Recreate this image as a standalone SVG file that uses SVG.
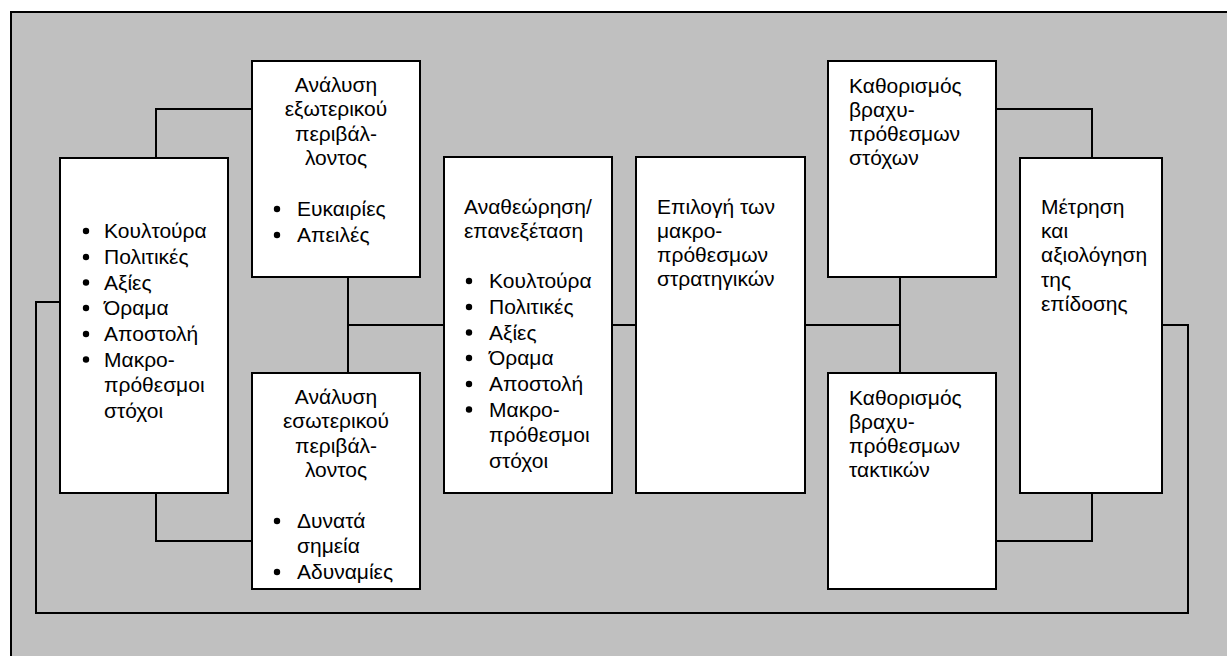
<svg xmlns="http://www.w3.org/2000/svg" width="1227" height="656" viewBox="0 0 1227 656">
<style>
.box{fill:#fff;stroke:#000;stroke-width:2}
.ln{fill:none;stroke:#000;stroke-width:2}
text{font-family:"Liberation Sans",Arial,sans-serif;font-size:21px;fill:#000}
.c{text-anchor:middle}
.b{fill:#000}
</style>
<rect x="11" y="12" width="1230" height="660" fill="#C0C0C0" stroke="#000" stroke-width="2"/>
<g id="connectors">
<path class="ln" d="M156,158 V109 H252"/>
<path class="ln" d="M156,493 V541 H252"/>
<path class="ln" d="M60,302 H36 V613 H1188 V325 H1162"/>
<path class="ln" d="M348,277 V373"/>
<path class="ln" d="M348,325 H444"/>
<path class="ln" d="M612,325 H636"/>
<path class="ln" d="M805,325 H900"/>
<path class="ln" d="M900,277 V373"/>
<path class="ln" d="M996,109 H1092 V158"/>
<path class="ln" d="M996,541 H1092 V493"/>
</g>
<g id="values">
<rect class="box" x="60" y="158" width="168" height="335"/>
<g class="b"><circle cx="86" cy="231" r="3.2"/><circle cx="86" cy="257" r="3.2"/><circle cx="86" cy="282.5" r="3.2"/><circle cx="86" cy="308" r="3.2"/><circle cx="86" cy="334" r="3.2"/><circle cx="86" cy="359.5" r="3.2"/></g>
<text x="104" y="238">Κουλτούρα</text>
<text x="104" y="264">Πολιτικές</text>
<text x="104" y="289.5">Αξίες</text>
<text x="104" y="315">Όραμα</text>
<text x="104" y="341">Αποστολή</text>
<text x="104" y="366.5">Μακρο-</text>
<text x="104" y="392">πρόθεσμοι</text>
<text x="104" y="418">στόχοι</text>
</g>
<g id="external">
<rect class="box" x="252" y="61" width="168" height="216"/>
<text class="c" x="336" y="92">Ανάλυση</text>
<text class="c" x="336" y="116">εξωτερικού</text>
<text class="c" x="336" y="141">περιβάλ-</text>
<text class="c" x="336" y="165">λοντος</text>
<g class="b"><circle cx="277" cy="209" r="3.2"/><circle cx="277" cy="235" r="3.2"/></g>
<text x="297" y="216">Ευκαιρίες</text>
<text x="297" y="242">Απειλές</text>
</g>
<g id="internal">
<rect class="box" x="252" y="373" width="168" height="216"/>
<text class="c" x="336" y="404">Ανάλυση</text>
<text class="c" x="336" y="428">εσωτερικού</text>
<text class="c" x="336" y="453">περιβάλ-</text>
<text class="c" x="336" y="477">λοντος</text>
<g class="b"><circle cx="277" cy="521" r="3.2"/><circle cx="277" cy="572" r="3.2"/></g>
<text x="297" y="528">Δυνατά</text>
<text x="297" y="553">σημεία</text>
<text x="297" y="579">Αδυναμίες</text>
</g>
<g id="review">
<rect class="box" x="444" y="157" width="168" height="336"/>
<text x="464" y="214">Αναθεώρηση/</text>
<text x="464" y="238">επανεξέταση</text>
<g class="b"><circle cx="469" cy="281" r="3.2"/><circle cx="469" cy="307" r="3.2"/><circle cx="469" cy="332.5" r="3.2"/><circle cx="469" cy="358" r="3.2"/><circle cx="469" cy="384" r="3.2"/><circle cx="469" cy="409.5" r="3.2"/></g>
<text x="489" y="288">Κουλτούρα</text>
<text x="489" y="314">Πολιτικές</text>
<text x="489" y="339.5">Αξίες</text>
<text x="489" y="365">Όραμα</text>
<text x="489" y="391">Αποστολή</text>
<text x="489" y="416.5">Μακρο-</text>
<text x="489" y="442">πρόθεσμοι</text>
<text x="489" y="468">στόχοι</text>
</g>
<g id="strategies">
<rect class="box" x="636" y="157" width="169" height="336"/>
<text x="657" y="214">Επιλογή των</text>
<text x="657" y="238">μακρο-</text>
<text x="657" y="262">πρόθεσμων</text>
<text x="657" y="286">στρατηγικών</text>
</g>
<g id="goals">
<rect class="box" x="828" y="61" width="168" height="216"/>
<text x="849" y="93">Καθορισμός</text>
<text x="849" y="117">βραχυ-</text>
<text x="849" y="141">πρόθεσμων</text>
<text x="849" y="165">στόχων</text>
</g>
<g id="tactics">
<rect class="box" x="828" y="373" width="168" height="216"/>
<text x="849" y="405">Καθορισμός</text>
<text x="849" y="429">βραχυ-</text>
<text x="849" y="453">πρόθεσμων</text>
<text x="849" y="477">τακτικών</text>
</g>
<g id="measure">
<rect class="box" x="1020" y="158" width="142" height="335"/>
<text x="1041" y="214">Μέτρηση</text>
<text x="1041" y="238">και</text>
<text x="1041" y="262">αξιολόγηση</text>
<text x="1041" y="287">της</text>
<text x="1041" y="311">επίδοσης</text>
</g>
</svg>
